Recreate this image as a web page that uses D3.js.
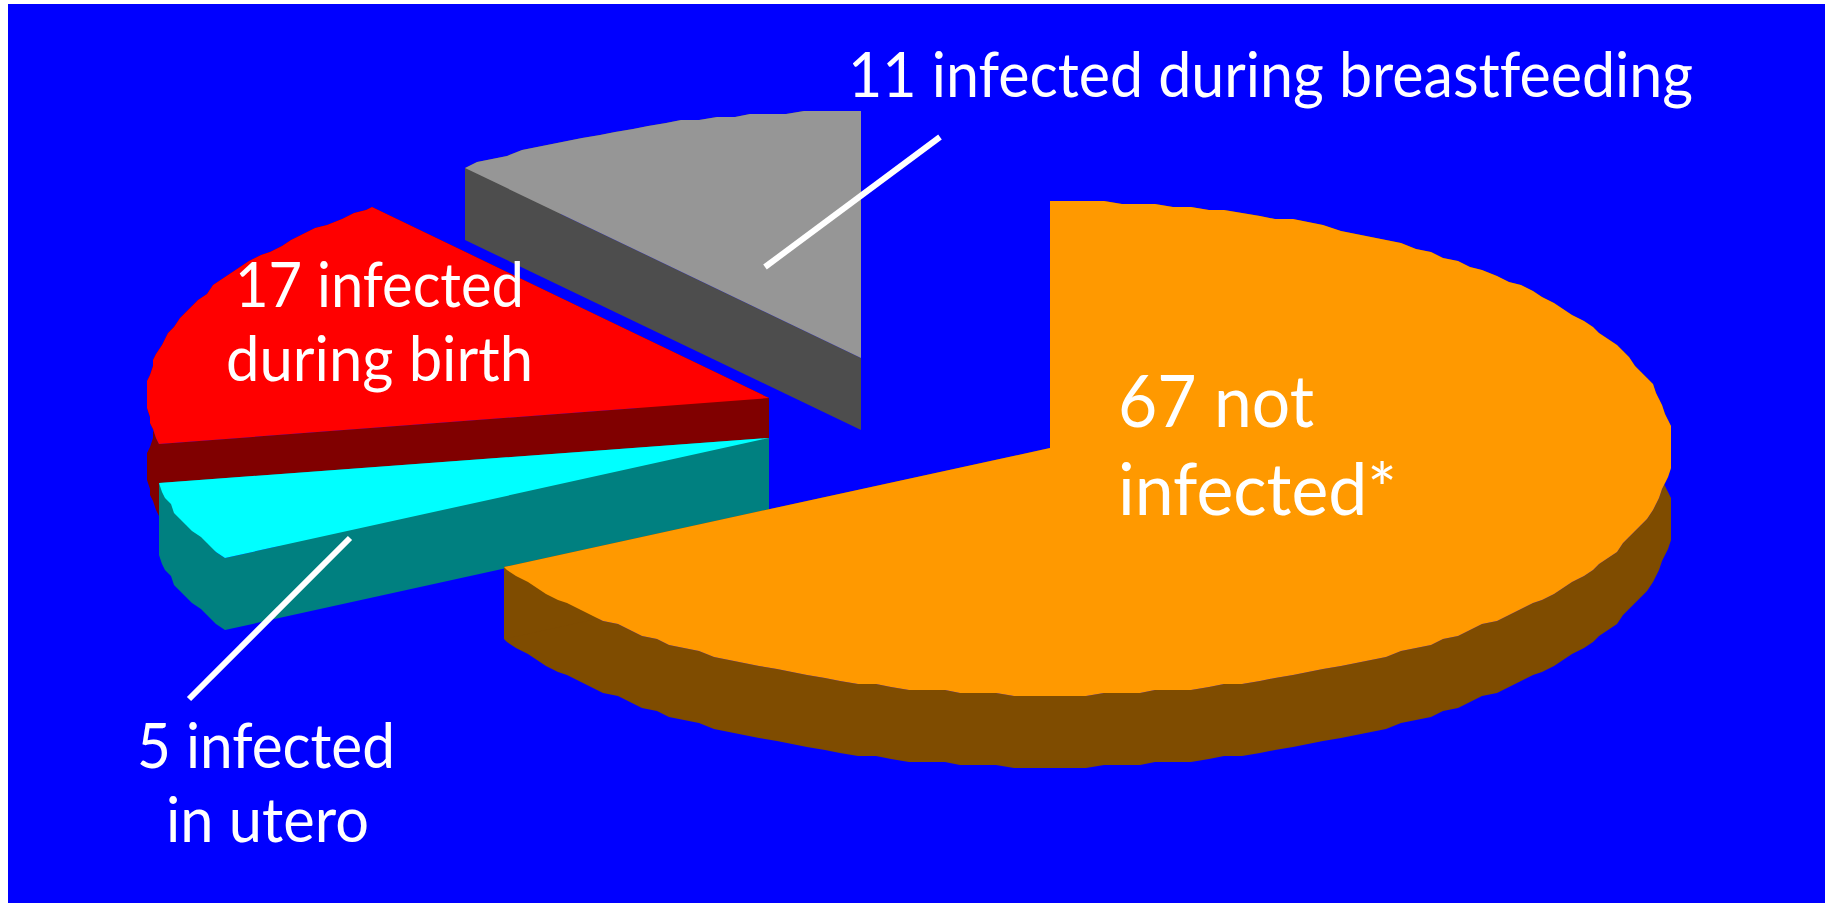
<!DOCTYPE html>
<html>
<head>
<meta charset="utf-8">
<script src="https://cdn.jsdelivr.net/npm/d3@7"></script>
<style>
    html, body { margin: 0; padding: 0; background: #fff; overflow: hidden; }
    text { font-family: Lato, "Open Sans", sans-serif; fill: #fff; font-variant-ligatures: none; }
</style>
</head>
<body>
<div id="chart-area"></div>
<script>
// same order as the picture, clockwise from 12 o'clock
const categories = ["not infected", "infected in utero", "infected during birth", "infected during breastfeeding"];
const counts = [67, 5, 17, 11];
const topColors = ["#FF9900", "#00FFFF", "#FF0000", "#969696"];
const sideColors = ["#7F4C00", "#008080", "#800000", "#4D4D4D"];

const width = 1827;
const height = 903;
const rx = 622;
const ry = 247;
const depth = 72;
const snap = 3; // the original outline is stair-stepped, roughly this many px

// where each slice's centre ends up once it is pulled out of the pie
const centres = [[1050, 448], [769, 438], [769, 398], [861, 358]];
const drawOrder = [3, 2, 1, 0];

const svg = d3.select("#chart-area")
    .append("svg")
    .attr("width", width)
    .attr("height", height)
    .style("display", "block");

svg.append("rect")
    .attr("x", 8)
    .attr("y", 4)
    .attr("width", 1817)
    .attr("height", 899)
    .attr("fill", "#0000FF");

const pie = d3.pie().sort(null).value(d => d);
const slices = pie(counts);

const line = d3.line();

function outline(slice, i, drop) {
    const x = d3.scaleLinear().domain([-1, 1]).range([centres[i][0] - rx, centres[i][0] + rx]);
    const y = d3.scaleLinear().domain([-1, 1]).range([centres[i][1] - ry + drop, centres[i][1] + ry + drop]);
    const steps = d3.range(slice.startAngle, slice.endAngle, Math.PI / 110).concat(slice.endAngle);
    return steps.map(a => [
        Math.round(x(Math.sin(a)) / snap) * snap,
        Math.round(y(-Math.cos(a)) / snap) * snap
    ]);
}

function sidePolys(slice, i) {
    const top = outline(slice, i, 0);
    const bottom = outline(slice, i, depth);
    const c = centres[i];
    return [
        top.concat(bottom.slice().reverse()),
        [c, top[0], bottom[0], [c[0], c[1] + depth]],
        [c, top[top.length - 1], bottom[bottom.length - 1], [c[0], c[1] + depth]]
    ];
}

const groups = svg.selectAll("g.slice")
    .data(drawOrder)
    .enter()
    .append("g")
    .attr("class", "slice")
    .attr("data-name", i => categories[i]);

groups.each(function (i) {
    const g = d3.select(this);
    g.selectAll("path.side")
        .data(sidePolys(slices[i], i))
        .enter()
        .append("path")
        .attr("class", "side")
        .attr("d", d => line(d) + "Z")
        .attr("fill", sideColors[i]);
    g.append("path")
        .attr("d", line([centres[i]].concat(outline(slices[i], i, 0))) + "Z")
        .attr("fill", topColors[i]);
});

// leader lines
const leaders = [
    [[940, 137], [765, 267]],
    [[350, 538], [189, 699]]
];
svg.selectAll("line.leader")
    .data(leaders)
    .enter()
    .append("line")
    .attr("class", "leader")
    .attr("x1", d => d[0][0])
    .attr("y1", d => d[0][1])
    .attr("x2", d => d[1][0])
    .attr("y2", d => d[1][1])
    .attr("stroke", "#fff")
    .attr("stroke-width", 6);

const labels = [
    { text: "11 infected during breastfeeding", x: 848, y: 97, w: 845, size: 62 },
    { text: "17 infected", x: 235, y: 307, w: 289, size: 62 },
    { text: "during birth", x: 226, y: 381, w: 307, size: 62 },
    { text: "5 infected", x: 137, y: 768, w: 258, size: 62 },
    { text: "in utero", x: 166, y: 842, w: 203, size: 62 },
    { text: "67 not", x: 1118, y: 427, w: 196, size: 72 },
    { text: "infected*", x: 1118, y: 515, w: 279, size: 72 }
];
svg.selectAll("text.label")
    .data(labels)
    .enter()
    .append("text")
    .attr("class", "label")
    .attr("x", d => d.x)
    .attr("y", d => d.y)
    .attr("font-size", d => d.size + "px")
    .attr("textLength", d => d.w)
    .attr("lengthAdjust", "spacingAndGlyphs")
    .text(d => d.text);
</script>
</body>
</html>
